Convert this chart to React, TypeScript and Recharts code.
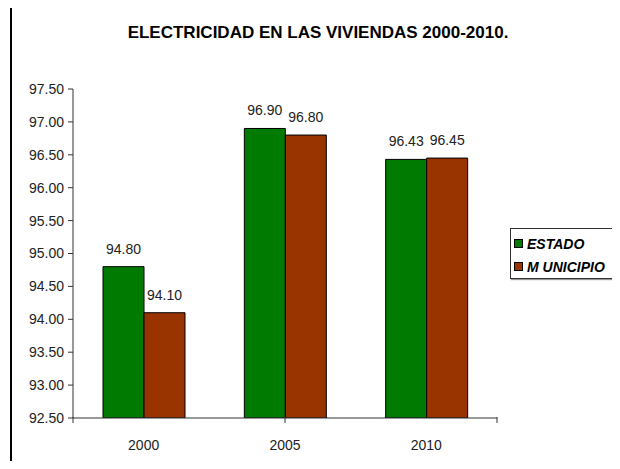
import { Bar, BarChart, LabelList, XAxis, YAxis } from "recharts";

const years = ["2000", "2005", "2010"];
const estado = [94.8, 96.9, 96.43];
const municipio = [94.1, 96.8, 96.45];
const yTicks = [92.5, 93, 93.5, 94, 94.5, 95, 95.5, 96, 96.5, 97, 97.5];
const boundaryTicks = [0, 1, 2, 3];

const series = [
  { key: "estado", name: "ESTADO", color: "#007A00" },
  { key: "municipio", name: "M UNICIPIO", color: "#993300" },
];

const data = years.map((y, i) => ({ year: y, estado: estado[i], municipio: municipio[i] }));

const font = "'Liberation Sans', Arial, sans-serif";
const axisText = { fill: "#222", fontSize: 14, fontFamily: font };

function LegendBox() {
  return (
    <div
      style={{
        position: "absolute",
        left: 510,
        top: 228,
        width: 107,
        height: 51,
        border: "1px solid #333",
        boxShadow: "1px 1px 1px #999",
        background: "#fff",
        padding: "3px 3px",
        boxSizing: "border-box",
        fontFamily: font,
      }}
    >
      {series.map((s) => (
        <div
          key={s.key}
          style={{ display: "flex", alignItems: "center", height: 23, fontSize: 14, fontWeight: "bold", fontStyle: "italic", color: "#000" }}
        >
          <span
            style={{ display: "inline-block", width: 7, height: 7, background: s.color, border: "1px solid #000", marginRight: 4 }}
          />
          {s.name}
        </div>
      ))}
    </div>
  );
}

// category boundary ticks, Excel style
function BoundaryTick(props: any) {
  const { x, y } = props;
  return <line x1={x} x2={x} y1={y - 1} y2={y + 5} stroke="#333" strokeWidth={1} />;
}

export default function App() {
  return (
    <div style={{ position: "relative", width: 620, height: 469, margin: -8, background: "#fff", overflow: "hidden" }}>
      <div
        style={{
          position: "absolute",
          left: 10,
          top: 5,
          width: 640,
          height: 500,
          border: "2px solid #000",
          boxSizing: "border-box",
        }}
      />
      <div
        style={{
          position: "absolute",
          left: 118,
          top: 23,
          width: 400,
          textAlign: "center",
          fontFamily: font,
          fontWeight: "bold",
          fontSize: 17,
          whiteSpace: "nowrap",
          color: "#000",
        }}
      >
        ELECTRICIDAD EN LAS VIVIENDAS 2000-2010.
      </div>
      <div style={{ position: "absolute", left: 0, top: 0 }}>
        <BarChart
          width={620}
          height={469}
          data={data}
          margin={{ top: 89, left: 20, right: 123, bottom: 0 }}
          barCategoryGap={30}
          barGap={0}
        >
          <XAxis
            xAxisId={0}
            type="number"
            domain={[0, 3]}
            ticks={boundaryTicks}
            interval={0}
            height={1}
            axisLine={{ stroke: "#333" }}
            tickLine={false}
            tickMargin={0}
            tickSize={0}
            tick={<BoundaryTick />}
          />
          <XAxis
            xAxisId="cat"
            dataKey="year"
            height={50}
            tickLine={false}
            axisLine={false}
            tick={axisText}
            tickMargin={15}
          />
          <YAxis
            width={53}
            domain={[92.5, 97.5]}
            ticks={yTicks}
            allowDataOverflow
            interval={0}
            tickFormatter={(v: number) => v.toFixed(2)}
            tick={axisText}
            tickSize={5}
            tickMargin={4}
            axisLine={{ stroke: "#333" }}
            tickLine={{ stroke: "#333" }}
          />
          {series.map((s) => (
            <Bar
              key={s.key}
              xAxisId="cat"
              dataKey={s.key}
              name={s.name}
              fill={s.color}
              stroke="#000"
              strokeWidth={1}
              isAnimationActive={false}
            >
              <LabelList
                dataKey={s.key}
                position="top"
                offset={13}
                formatter={(v: any) => Number(v).toFixed(2)}
                style={axisText}
              />
            </Bar>
          ))}
        </BarChart>
      </div>
      <LegendBox />
    </div>
  );
}
